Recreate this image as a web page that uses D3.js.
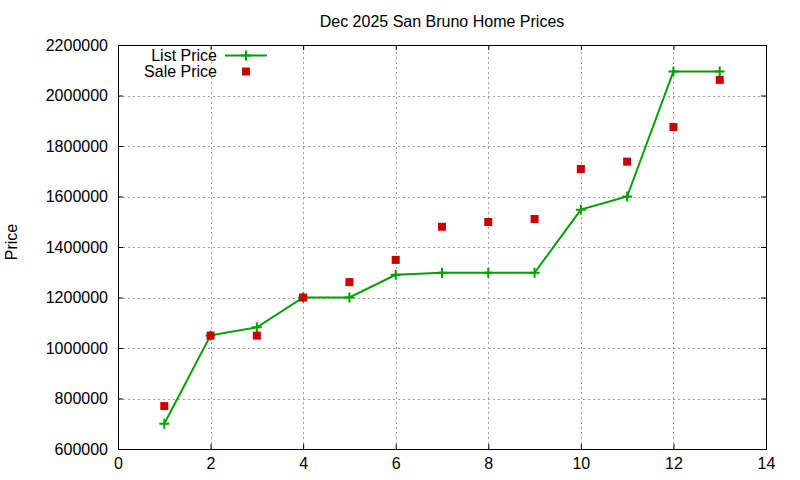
<!DOCTYPE html>
<html>
<head>
<meta charset="utf-8">
<script src="https://cdn.jsdelivr.net/npm/d3@7"></script>
<style>
  body { margin: 0; background: #fff; }
  text { font-family: "Liberation Sans", Arial, sans-serif; fill: #000; }
</style>
</head>
<body>
<div id="chart"></div>
<script>
const months = [1, 2, 3, 4, 5, 6, 7, 8, 9, 10, 11, 12, 13];
const listPrice = [700000, 1050000, 1082000, 1200000, 1200000, 1290000, 1298000, 1298000, 1298000, 1548000, 1600000, 2095000, 2095000];
const salePrice = [770000, 1049000, 1049000, 1200000, 1261000, 1349000, 1480000, 1499000, 1511000, 1709000, 1738000, 1875000, 2062000];
const xTicks = [0, 2, 4, 6, 8, 10, 12, 14];
const yTicks = [600000, 800000, 1000000, 1200000, 1400000, 1600000, 1800000, 2000000, 2200000];

const width = 800, height = 480;
const margin = {left: 118, right: 34, top: 45, bottom: 31};
const FONT = 16;

const svg = d3.select("#chart").append("svg")
    .attr("width", width)
    .attr("height", height);

const x = d3.scaleLinear().domain([0, 14]).range([margin.left, width - margin.right]);
const y = d3.scaleLinear().domain([600000, 2200000]).range([height - margin.bottom, margin.top]);

// grid
const grid = svg.append("g")
    .attr("stroke", "#a0a0a0")
    .attr("stroke-width", 1)
    .attr("stroke-dasharray", "2,3");
grid.selectAll("line.v")
  .data(xTicks.slice(1, -1))
  .enter().append("line")
    .attr("x1", d => Math.round(x(d)) + 0.5).attr("x2", d => Math.round(x(d)) + 0.5)
    .attr("y1", y.range()[0]).attr("y2", y.range()[1]);
grid.selectAll("line.h")
  .data(yTicks.slice(1, -1))
  .enter().append("line")
    .attr("y1", d => Math.round(y(d)) + 0.5).attr("y2", d => Math.round(y(d)) + 0.5)
    .attr("x1", x.range()[0]).attr("x2", x.range()[1]);

// axes (ticks inward, mirrored)
const fmt = d3.format("d");
const axB = svg.append("g").attr("transform", `translate(0,${y.range()[0]})`)
    .call(d3.axisBottom(x).tickValues(xTicks).tickFormat(fmt).tickSizeInner(-5).tickSizeOuter(0).tickPadding(9));
const axT = svg.append("g").attr("transform", `translate(0,${y.range()[1]})`)
    .call(d3.axisTop(x).tickValues(xTicks).tickFormat("").tickSizeInner(-5).tickSizeOuter(0));
const axL = svg.append("g").attr("transform", `translate(${x.range()[0]},0)`)
    .call(d3.axisLeft(y).tickValues(yTicks).tickFormat(fmt).tickSizeInner(-5).tickSizeOuter(0).tickPadding(10));
const axR = svg.append("g").attr("transform", `translate(${x.range()[1]},0)`)
    .call(d3.axisRight(y).tickValues(yTicks).tickFormat("").tickSizeInner(-5).tickSizeOuter(0));

[axB, axT, axL, axR].forEach(a => {
  a.select(".domain").remove();
  a.selectAll("line").attr("stroke", "#000");
  a.selectAll("text").attr("font-size", FONT).attr("font-family", "Liberation Sans, Arial, sans-serif").attr("fill", "#000");
});
axB.selectAll("text").attr("dy", "0.71em");

// border
svg.append("rect")
    .attr("x", x.range()[0] + 0.5).attr("y", y.range()[1] + 0.5)
    .attr("width", x.range()[1] - x.range()[0])
    .attr("height", y.range()[0] - y.range()[1])
    .attr("fill", "none").attr("stroke", "#000").attr("stroke-width", 1);

// list price line + cross points
const GREEN = "#00a000", RED = "#cc0000";
const listData = months.map((m, i) => ({x: m, y: listPrice[i]}));
const saleData = months.map((m, i) => ({x: m, y: salePrice[i]}));

svg.append("path")
    .datum(listData)
    .attr("fill", "none")
    .attr("stroke", GREEN)
    .attr("stroke-width", 2)
    .attr("d", d3.line().x(d => x(d.x)).y(d => y(d.y)));

const cross = (g, cx, cy) => g.append("path")
    .attr("d", `M${cx - 5},${cy}H${cx + 5}M${cx},${cy - 5}V${cy + 5}`)
    .attr("stroke", GREEN).attr("stroke-width", 2).attr("fill", "none");

const crosses = svg.append("g");
listData.forEach(d => cross(crosses, x(d.x), y(d.y)));

svg.append("g").selectAll("rect")
  .data(saleData)
  .enter().append("rect")
    .attr("x", d => x(d.x) - 4).attr("y", d => y(d.y) - 4)
    .attr("width", 8).attr("height", 8)
    .attr("fill", RED);

// legend
const legend = svg.append("g").attr("font-size", FONT);
legend.append("text").attr("x", 217).attr("y", 61).attr("text-anchor", "end").text("List Price");
legend.append("line").attr("x1", 225).attr("x2", 267).attr("y1", 55.5).attr("y2", 55.5)
    .attr("stroke", GREEN).attr("stroke-width", 2);
cross(legend, 246, 55.5);
legend.append("text").attr("x", 217).attr("y", 77).attr("text-anchor", "end").text("Sale Price");
legend.append("rect").attr("x", 242).attr("y", 67.5).attr("width", 8).attr("height", 8).attr("fill", RED);

// title and axis label
svg.append("text")
    .attr("x", (x.range()[0] + x.range()[1]) / 2).attr("y", 27)
    .attr("text-anchor", "middle").attr("font-size", FONT)
    .text("Dec 2025 San Bruno Home Prices");

svg.append("text")
    .attr("transform", `translate(17,${242}) rotate(-90)`)
    .attr("text-anchor", "middle").attr("font-size", FONT)
    .text("Price");
</script>
</body>
</html>
